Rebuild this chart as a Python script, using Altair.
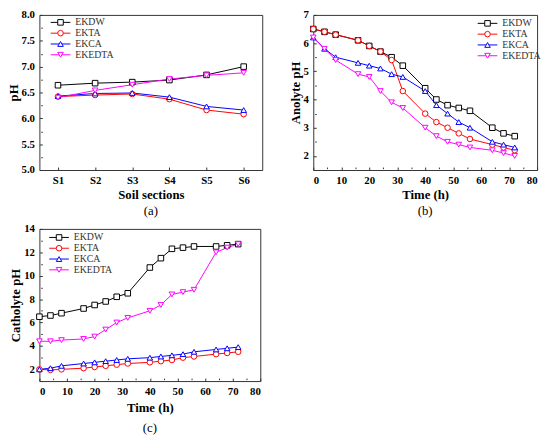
import altair as alt
import pandas as pd

FONT = "Liberation Serif"

series = ["EKDW", "EKTA", "EKCA", "EKEDTA"]
colors = ["#000000", "#ff0000", "#0000ff", "#ff00ff"]
shapes = ["square", "circle", "triangle-up", "triangle-down"]

# (a) soil pH by section
sections = ["S1", "S2", "S3", "S4", "S5", "S6"]
soil_ekdw = [6.64, 6.68, 6.70, 6.74, 6.84, 7.00]
soil_ekta = [6.42, 6.45, 6.47, 6.37, 6.16, 6.08]
soil_ekca = [6.43, 6.48, 6.49, 6.41, 6.23, 6.16]
soil_ekedta = [6.40, 6.54, 6.65, 6.76, 6.83, 6.88]

# (b), (c) time series
hours = [0, 4, 8, 16, 20, 24, 28, 32, 40, 44, 48, 52, 56, 64, 68, 72]
anolyte_ekdw = [6.5, 6.4, 6.3, 6.1, 5.9, 5.7, 5.5, 5.2, 4.4, 4.0, 3.8, 3.7, 3.6, 3.0, 2.8, 2.7]
anolyte_ekta = [6.5, 6.4, 6.3, 6.1, 5.9, 5.7, 5.4, 4.3, 3.5, 3.2, 3.0, 2.8, 2.6, 2.4, 2.3, 2.2]
anolyte_ekca = [6.2, 5.8, 5.5, 5.3, 5.2, 5.1, 4.9, 4.8, 4.3, 3.8, 3.5, 3.2, 3.0, 2.5, 2.4, 2.3]
anolyte_ekedta = [6.2, 5.8, 5.4, 4.9, 4.8, 4.3, 3.9, 3.7, 3.0, 2.7, 2.5, 2.4, 2.3, 2.2, 2.1, 2.0]

catholyte_ekdw = [6.5, 6.6, 6.8, 7.2, 7.5, 7.8, 8.2, 8.5, 10.7, 11.5, 12.3, 12.4, 12.5, 12.5, 12.6, 12.7]
catholyte_ekta = [2.0, 1.95, 2.0, 2.1, 2.2, 2.3, 2.4, 2.5, 2.6, 2.7, 2.8, 3.0, 3.1, 3.3, 3.4, 3.5]
catholyte_ekca = [2.0, 2.1, 2.3, 2.5, 2.6, 2.7, 2.8, 2.9, 3.0, 3.1, 3.2, 3.3, 3.5, 3.7, 3.8, 3.9]
catholyte_ekedta = [4.4, 4.4, 4.5, 4.6, 4.8, 5.4, 6.0, 6.4, 7.0, 7.5, 8.4, 8.6, 8.8, 12.0, 12.4, 12.7]

# tick values (major + minor)
ticks_a_y = [5, 5.25, 5.5, 5.75, 6, 6.25, 6.5, 6.75, 7, 7.25, 7.5, 7.75, 8]
ticks_time = [0, 5, 10, 15, 20, 25, 30, 35, 40, 45, 50, 55, 60, 65, 70, 75, 80]
ticks_b_y = [1.5, 2, 2.5, 3, 3.5, 4, 4.5, 5, 5.5, 6, 6.5, 7]
ticks_c_y = [1, 2, 3, 4, 5, 6, 7, 8, 9, 10, 11, 12, 13, 14]

# marker legend keys (distinct domain so the marker legend is not merged with the line legend)
markers = [s + " " for s in series]

MSIZE = 32
LINE_SYMBOL = "M-3.54,0L3.54,0"


def long_df(xs, xname, lists):
    rows = []
    for s, m, vals in zip(series, markers, lists):
        for xv, v in zip(xs, vals):
            rows.append({xname: xv, "value": v, "series": s, "marker": m})
    return pd.DataFrame(rows)


df_a = long_df(sections, "section", [soil_ekdw, soil_ekta, soil_ekca, soil_ekedta])
df_b = long_df(hours, "time", [anolyte_ekdw, anolyte_ekta, anolyte_ekca, anolyte_ekedta])
df_c = long_df(hours, "time", [catholyte_ekdw, catholyte_ekta, catholyte_ekca, catholyte_ekedta])


def major_axis(values, major_test, label="datum.label", **kw):
    return alt.Axis(
        values=values,
        labelExpr=f"({major_test}) ? {label} : ''",
        tickSize={"condition": {"test": major_test, "value": 3}, "value": 1.6},
        labelOverlap=False,
        **kw,
    )


def panel(df, x, y, lx, ly, w, h, caption, cap_offset=4):
    common = dict(
        orient="none", legendX=lx, legendY=ly, symbolSize=MSIZE,
        symbolStrokeWidth=1, labelFont=FONT, labelFontSize=10,
        rowPadding=1, padding=0, labelOffset=10,
    )
    line_leg = alt.Legend(symbolType=LINE_SYMBOL, labelColor="#333", **common)
    mark_leg = alt.Legend(symbolFillColor="white", labelExpr="' '", **common)
    lines = alt.Chart(df).mark_line(strokeWidth=1).encode(
        x=x, y=y,
        color=alt.Color("series:N", scale=alt.Scale(domain=series, range=colors),
                        legend=line_leg, title=None),
    )
    pts = alt.Chart(df).mark_point(
        filled=True, fill="white", size=MSIZE, strokeWidth=1, opacity=1
    ).encode(
        x=x, y=y,
        stroke=alt.Stroke("marker:N", scale=alt.Scale(domain=markers, range=colors),
                          legend=mark_leg, title=None),
        shape=alt.Shape("marker:N", scale=alt.Scale(domain=markers, range=shapes),
                        legend=mark_leg, title=None),
    )
    return alt.layer(lines, pts).properties(
        width=w, height=h,
        title=alt.TitleParams(caption, orient="bottom", offset=cap_offset),
    )


y_a = alt.Y("value:Q", title="pH", scale=alt.Scale(domain=[5, 8]),
            axis=major_axis(ticks_a_y, "datum.value * 2 % 1 === 0", format=".1f"))
x_a = alt.X("section:N", title="Soil sections", sort=sections,
            axis=alt.Axis(labelAngle=0))

x_b = alt.X("time:Q", title="Time (h)", scale=alt.Scale(domain=[0, 80]),
            axis=major_axis(ticks_time, "datum.value % 10 === 0"))
x_c = alt.X("time:Q", title="Time (h)", scale=alt.Scale(domain=[0, 80]),
            axis=major_axis(ticks_time, "datum.value % 10 === 0", titlePadding=5))
y_b = alt.Y("value:Q", title="Anolyte pH", scale=alt.Scale(domain=[1.5, 7]),
            axis=major_axis(ticks_b_y, "round(datum.value) === datum.value",
                            label="format(datum.value, '.0f')"))
y_c = alt.Y("value:Q", title="Catholyte pH", scale=alt.Scale(domain=[1, 14]),
            axis=major_axis(ticks_c_y, "datum.value % 2 === 0"))

pa = panel(df_a, x_a, y_a, 16.5, 2.6, 227, 158, "(a)")
pb = panel(df_b, x_b, y_b, 172.5, 3.6, 228, 158, "(b)")
pc = panel(df_c, x_c, y_c, 15, 3.7, 225, 155, "(c)", cap_offset=8)

indep = dict(color="independent", stroke="independent", shape="independent")

top = alt.hconcat(pa, pb, spacing=52, bounds="flush").resolve_scale(**indep)
chart = alt.vconcat(top, pc, spacing=218, bounds="flush").resolve_scale(
    **indep
).properties(
    padding={"top": -4, "left": -2, "right": 0, "bottom": 0}
).configure_axis(
    labelFont=FONT, labelFontWeight="bold", labelFontSize=11, labelColor="black",
    titleFont=FONT, titleFontWeight="bold", titleFontSize=13, titleColor="black",
    grid=False, domain=False, tickSize=3, tickColor="#333", offset=-3,
    labelPadding=5,
).configure_axisX(titlePadding=3).configure_axisY(titlePadding=1).configure_title(
    font=FONT, fontSize=13, fontWeight="normal", color="black"
).configure_view(stroke="#333", strokeWidth=1)

chart.save("out.html", embed_options={"renderer": "svg", "actions": False})
